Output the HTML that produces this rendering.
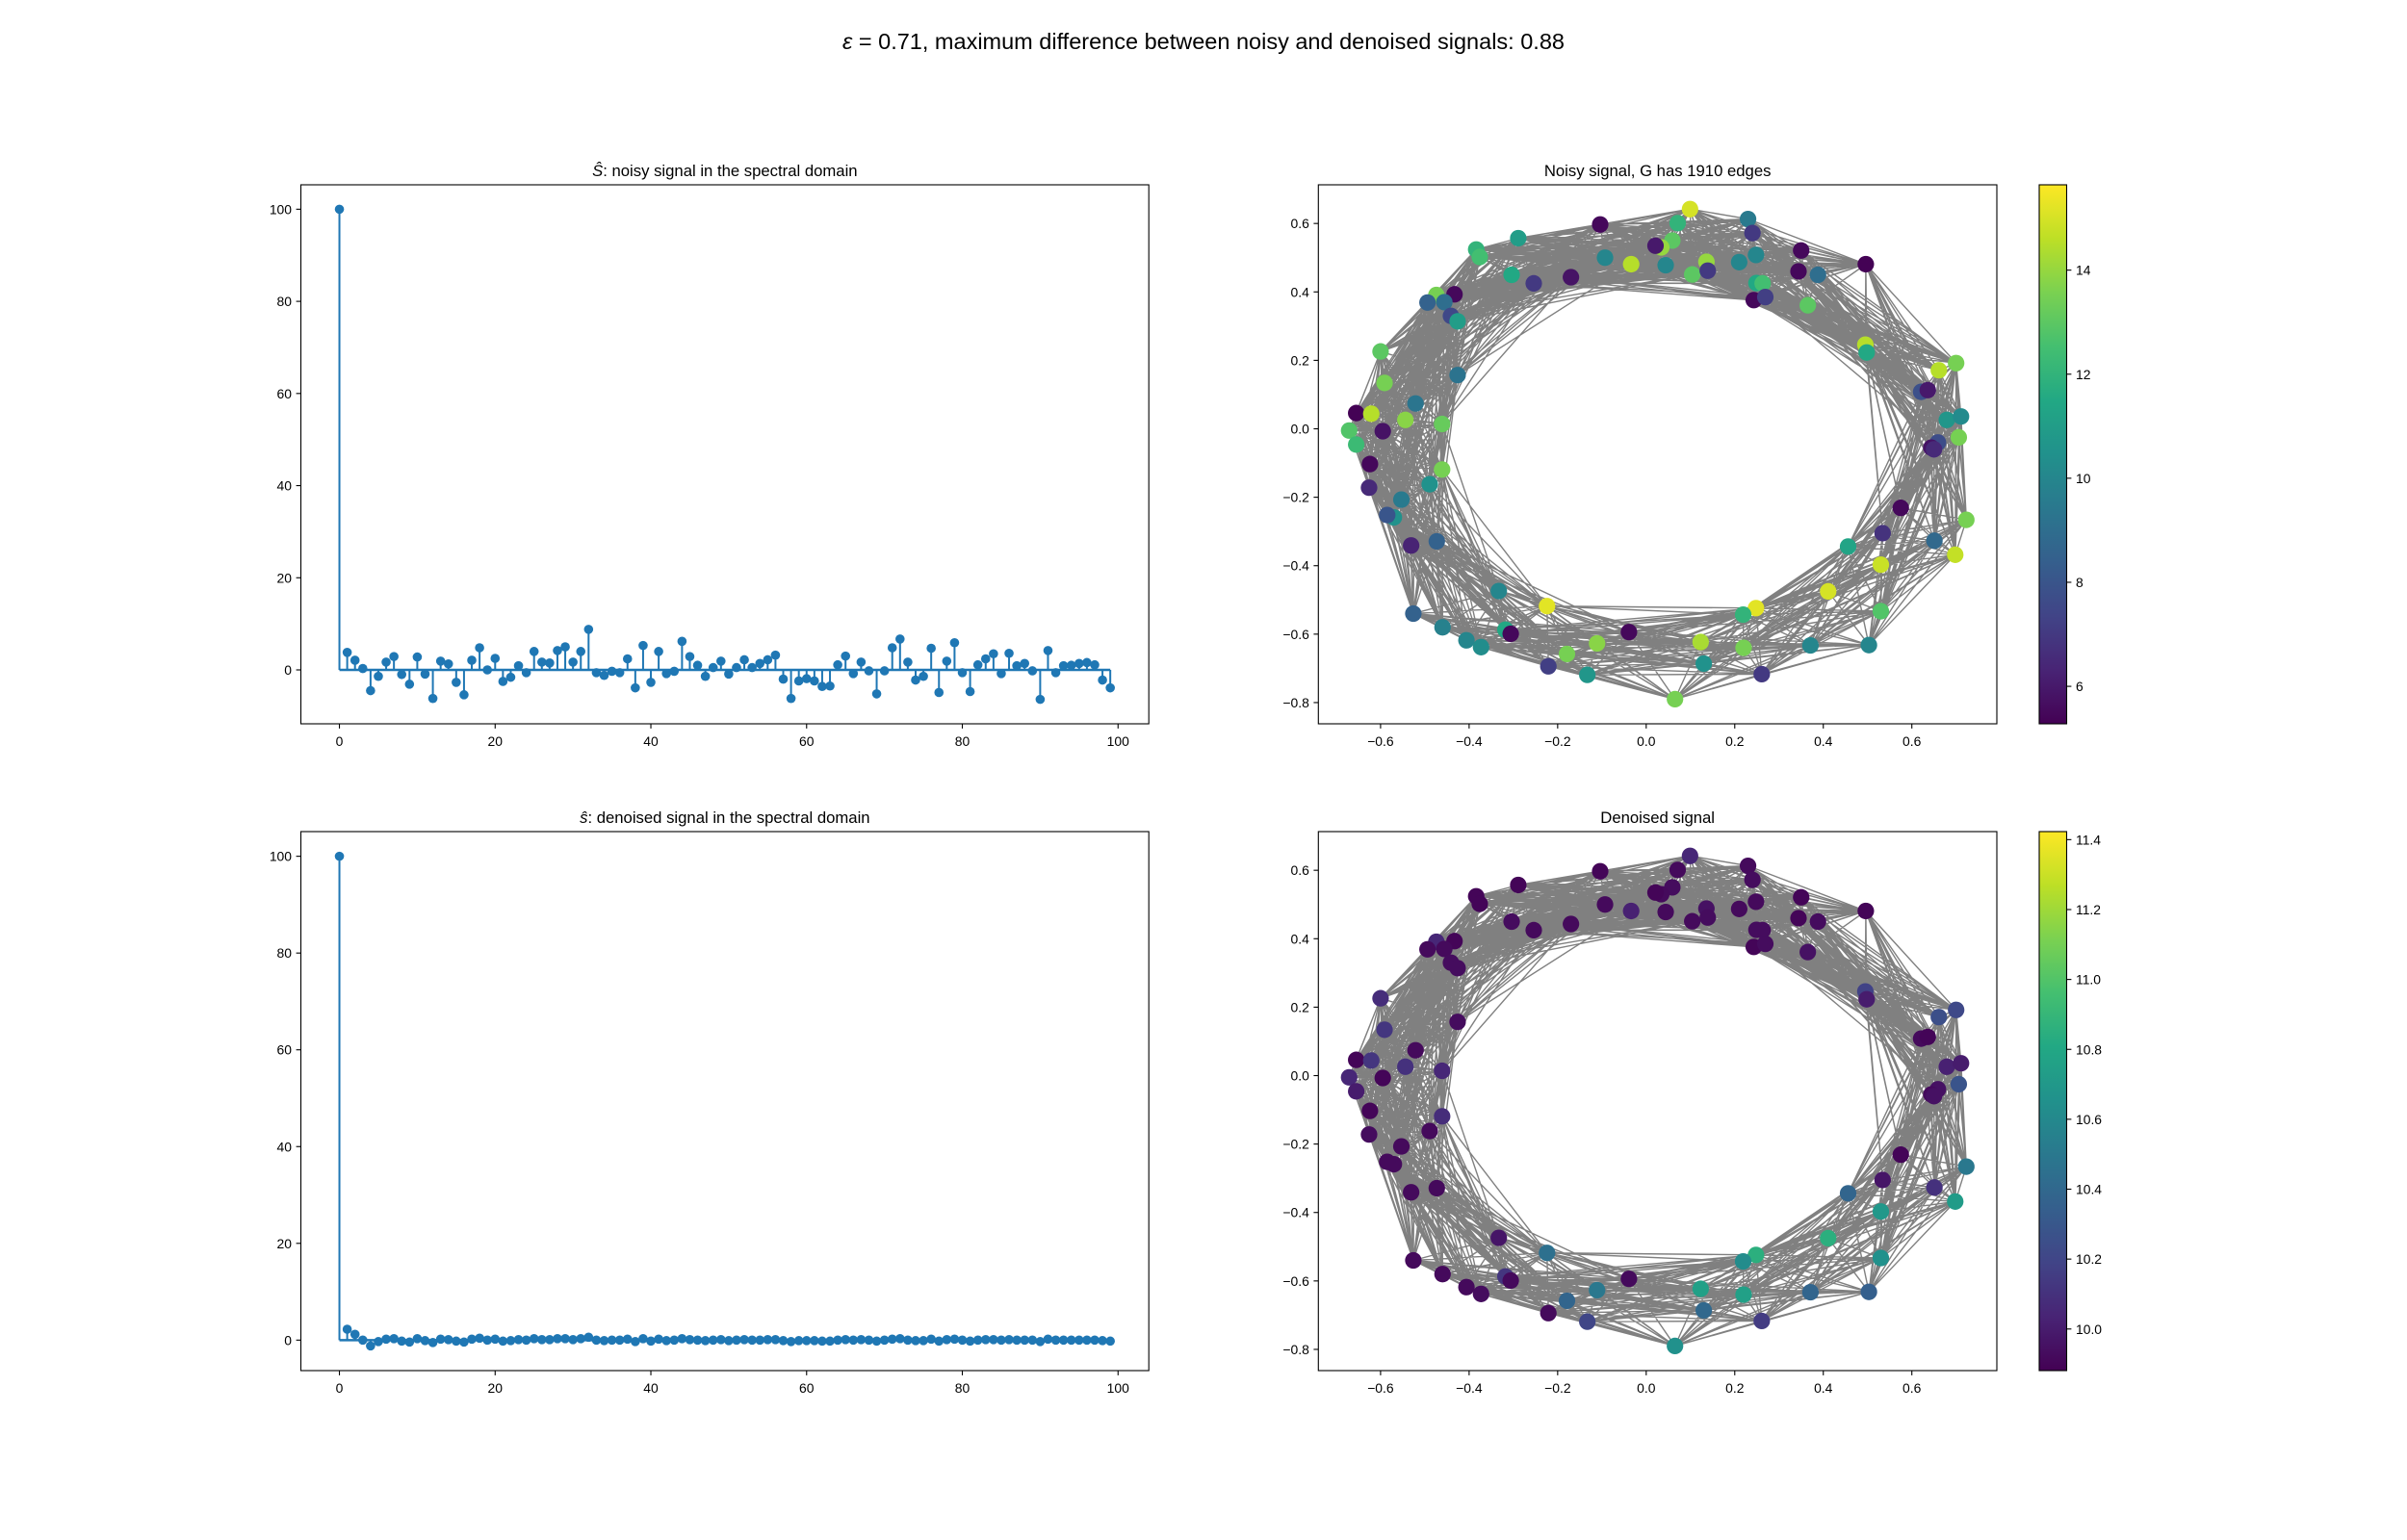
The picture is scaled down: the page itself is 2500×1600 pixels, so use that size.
<!DOCTYPE html>
<html><head><meta charset="utf-8">
<style>
html,body{margin:0;padding:0;background:#fff;}
svg{display:block;font-family:"Liberation Sans","DejaVu Sans",sans-serif;}
</style></head>
<body>
<svg id="fig" xmlns="http://www.w3.org/2000/svg" width="2500" height="1600" viewBox="0 0 2500 1600">
<rect width="2500" height="1600" fill="#fff"/>
<text x="1250" y="51" font-size="23.5" text-anchor="middle"><tspan font-style="italic">ε</tspan> = 0.71, maximum difference between noisy and denoised signals: 0.88</text>
<defs>
<linearGradient id="vir" x1="0" y1="1" x2="0" y2="0">
<stop offset="0" stop-color="#440154"/><stop offset="0.1" stop-color="#482475"/><stop offset="0.2" stop-color="#414487"/><stop offset="0.3" stop-color="#355f8d"/><stop offset="0.4" stop-color="#2a788e"/><stop offset="0.5" stop-color="#21918c"/><stop offset="0.6" stop-color="#22a884"/><stop offset="0.7" stop-color="#44bf70"/><stop offset="0.8" stop-color="#7ad151"/><stop offset="0.9" stop-color="#bddf26"/><stop offset="1" stop-color="#fde725"/>
</linearGradient>
</defs>
<g id="root"></g>
</svg>
<script>
// ---- data ----
const stemNoisy = [100,3.8,2.1,0.3,-4.5,-1.4,1.7,2.9,-1.0,-3.1,2.8,-0.9,-6.2,1.9,1.3,-2.7,-5.4,2.1,4.8,0,2.5,-2.5,-1.6,0.9,-0.6,4.0,1.7,1.5,4.2,5.0,1.7,4.0,8.8,-0.6,-1.2,-0.3,-0.6,2.4,-3.9,5.3,-2.7,4.0,-0.8,-0.3,6.2,2.9,1.0,-1.4,0.5,1.9,-0.9,0.5,2.2,0.5,1.4,2.2,3.2,-2.0,-6.2,-2.4,-1.9,-2.4,-3.6,-3.5,1.1,3.0,-0.8,1.7,-0.2,-5.2,-0.2,4.8,6.7,1.7,-2.2,-1.4,4.7,-4.9,1.9,5.9,-0.6,-4.7,1.1,2.4,3.5,-0.8,3.6,0.9,1.4,-0.2,-6.4,4.2,-0.6,0.9,1.0,1.4,1.6,1.1,-2.2,-3.9];
const stemDenoised = [100,2.25,1.2,0.0,-1.2,-0.3,0.2,0.3,-0.2,-0.4,0.3,-0.1,-0.5,0.2,0.1,-0.2,-0.4,0.2,0.4,0.0,0.2,-0.2,-0.1,0.1,0.0,0.3,0.1,0.1,0.3,0.3,0.1,0.3,0.6,0.0,-0.1,0.0,0.0,0.2,-0.3,0.3,-0.2,0.2,-0.1,0.0,0.3,0.1,0.0,-0.1,0.0,0.1,-0.1,0.0,0.1,0.0,0.0,0.1,0.1,-0.1,-0.3,-0.1,-0.1,-0.1,-0.2,-0.2,0.0,0.1,0.0,0.1,0.0,-0.2,0.0,0.2,0.3,0.0,-0.1,-0.1,0.2,-0.2,0.1,0.2,0.0,-0.2,0.0,0.1,0.1,0.0,0.1,0.0,0.0,0.0,-0.3,0.2,0.0,0.0,0.0,0.0,0.0,0.0,-0.1,-0.2];
const stemXTicks = [0,20,40,60,80,100];
const stemYTicks = [0,20,40,60,80,100];

const nodeX = [0.099,0.071,-0.104,0.23,0.24,-0.289,-0.384,-0.376,0.059,0.034,0.021,-0.093,-0.034,0.044,0.136,0.104,0.139,0.21,0.248,0.35,0.344,0.388,0.496,-0.304,-0.254,-0.17,0.249,0.263,0.243,0.269,0.365,-0.474,-0.433,-0.494,-0.456,-0.441,-0.426,-0.6,0.495,0.498,0.70,0.661,-0.591,-0.426,0.621,0.636,-0.521,-0.655,-0.621,-0.544,-0.461,0.679,0.711,-0.671,-0.595,-0.655,0.706,0.659,0.644,0.65,-0.624,-0.461,-0.626,-0.489,-0.553,-0.57,-0.585,0.575,0.723,0.534,-0.531,-0.473,0.651,0.456,0.53,0.698,-0.333,0.411,-0.224,0.248,0.219,0.53,-0.526,-0.46,-0.318,-0.306,-0.039,-0.406,-0.373,-0.111,0.123,0.22,0.371,0.503,-0.179,-0.221,-0.133,0.13,0.261,0.065];
const nodeY = [0.642,0.601,0.597,0.613,0.572,0.557,0.524,0.502,0.550,0.530,0.535,0.500,0.481,0.478,0.488,0.451,0.462,0.487,0.508,0.521,0.460,0.450,0.481,0.450,0.425,0.443,0.426,0.425,0.376,0.385,0.361,0.391,0.393,0.369,0.370,0.330,0.314,0.226,0.246,0.223,0.192,0.171,0.134,0.157,0.108,0.113,0.074,0.046,0.044,0.026,0.014,0.026,0.036,-0.005,-0.007,-0.046,-0.025,-0.040,-0.055,-0.06,-0.103,-0.119,-0.172,-0.162,-0.207,-0.259,-0.252,-0.231,-0.266,-0.305,-0.341,-0.329,-0.327,-0.344,-0.397,-0.368,-0.474,-0.475,-0.518,-0.524,-0.543,-0.533,-0.540,-0.580,-0.587,-0.599,-0.594,-0.618,-0.638,-0.627,-0.623,-0.640,-0.633,-0.632,-0.658,-0.694,-0.719,-0.686,-0.717,-0.790];
const noisyVal = [15,12,5.5,9.5,7,11,12,12.5,13,14,6,10,14.5,10,14,13,7,10,10,5.5,5.5,9,5.3,11.5,7,5.8,11.5,12.5,5.5,7.2,13,13.5,5.5,8.5,9,7.5,11,13,14.5,11.5,13.5,14.5,13.5,9.2,7.8,6,9.3,5.3,14.5,13.8,13.2,10.7,10.2,12.8,5.8,12.3,13.5,7.7,5.8,6.5,5.5,13.5,6.5,10.5,9.5,10.5,8,5.5,13.5,6.8,6.3,8.5,8.8,11.3,14.8,14.7,10,15,15.2,15.2,12,12.8,8.5,9.8,11.5,5.5,5.5,10,10.3,13.8,14.3,13.5,10,10,13.5,7.2,10.7,10.5,7,13.5];
const denoisedVal = [10.05,9.92,9.9,9.92,9.93,9.9,9.9,9.9,9.93,9.92,9.9,9.92,10.02,9.92,9.95,9.92,9.93,9.92,9.92,9.9,9.9,9.93,9.9,9.93,9.92,9.92,9.93,9.93,9.9,9.93,9.95,10.05,9.9,9.92,9.92,9.93,9.93,10.08,10.18,10.0,10.22,10.25,10.12,9.93,9.92,9.9,9.92,9.9,10.12,10.1,10.05,10.02,10.0,10.05,9.9,10.0,10.28,9.95,9.92,9.95,9.9,10.08,9.93,9.92,9.92,9.92,9.92,9.9,10.5,9.97,9.92,9.92,10.1,10.38,10.7,10.72,9.97,10.85,10.45,10.85,10.62,10.65,9.92,9.92,10.12,9.92,9.92,9.92,9.93,10.5,10.75,10.75,10.38,10.35,10.38,9.92,10.2,10.4,10.15,10.65];
const graphXTicks = [-0.6,-0.4,-0.2,0.0,0.2,0.4,0.6];
const graphYTicks = [-0.8,-0.6,-0.4,-0.2,0.0,0.2,0.4,0.6];
const cbNoisyTicks = [6,8,10,12,14];
const cbDenoisedTicks = [10.0,10.2,10.4,10.6,10.8,11.0,11.2,11.4];

// ---- helpers ----
const NS = "http://www.w3.org/2000/svg";
const root = document.getElementById('root');
function mk(tag, attrs, parent){
  const e = document.createElementNS(NS, tag);
  for (const k in attrs) e.setAttribute(k, attrs[k]);
  (parent||root).appendChild(e);
  return e;
}
function fmt(v, d){ const s = v.toFixed(d); return s.replace('-', '\u2212'); }
const VIR = ["#440154","#482475","#414487","#355f8d","#2a788e","#21918c","#22a884","#44bf70","#7ad151","#bddf26","#fde725"];
function hex2rgb(h){return [parseInt(h.slice(1,3),16),parseInt(h.slice(3,5),16),parseInt(h.slice(5,7),16)];}
function viridis(t){
  t = Math.max(0, Math.min(1, t));
  const p = t*10, i = Math.min(9, Math.floor(p)), f = p - i;
  const a = hex2rgb(VIR[i]), b = hex2rgb(VIR[i+1]);
  return 'rgb(' + a.map((v,k)=>Math.round(v+(b[k]-v)*f)).join(',') + ')';
}
const C0 = '#1f77b4';

// ---- stem plot ----
function stemPlot(name, top, vals, ylo, yhi, titleMain, hat){
  const L = 312.5, R = 1193.2, T = top, B = top + 560;
  const xlo = -4.95, xhi = 103.95;
  const sx = v => L + (v - xlo)/(xhi - xlo)*(R - L);
  const sy = v => B - (v - ylo)/(yhi - ylo)*(B - T);
  const g = mk('g', {});
  
  
  const t = mk('text', {x:(L+R)/2, y:T-9, 'font-size':16.7, 'text-anchor':'middle'}, g);
  
  
  const ts = mk('tspan', {'font-style':'italic'}, t); ts.textContent = hat;
  const ts2 = mk('tspan', {}, t); ts2.textContent = titleMain;
  vals.forEach((v,i)=>{
    const ln = mk('line', {x1:sx(i), x2:sx(i), y1:sy(0), y2:sy(v), stroke:C0, 'stroke-width':2}, g);
    
    
  });
  const base = mk('line', {x1:sx(0), x2:sx(vals.length-1), y1:sy(0), y2:sy(0), stroke:C0, 'stroke-width':2.5}, g);
  
  
  vals.forEach((v,i)=>{
    const c = mk('circle', {cx:sx(i), cy:sy(v), r:4.8, fill:C0}, g);
    
    
  });
  const fr = mk('rect', {x:L, y:T, width:R-L, height:B-T, fill:'none', stroke:'#000', 'stroke-width':1.1}, g);
  
  
  stemXTicks.forEach(v=>{
    mk('line', {x1:sx(v), x2:sx(v), y1:B, y2:B+4.9, stroke:'#000', 'stroke-width':1.1}, g);
    const tx = mk('text', {x:sx(v), y:B+23, 'font-size':13.9, 'text-anchor':'middle'}, g);
    
    
    tx.textContent = String(v);
  });
  stemYTicks.forEach(v=>{
    mk('line', {x1:L-4.9, x2:L, y1:sy(v), y2:sy(v), stroke:'#000', 'stroke-width':1.1}, g);
    const tx = mk('text', {x:L-9.5, y:sy(v)+5, 'font-size':13.9, 'text-anchor':'end'}, g);
    
    
    tx.textContent = String(v);
  });
}
stemPlot('noisy-spectrum-plot', 192, stemNoisy, -11.7, 105.3, ': noisy signal in the spectral domain', '\u015C');
stemPlot('denoised-spectrum-plot', 864, stemDenoised, -6.3, 105.1, ': denoised signal in the spectral domain', '\u015D');

// ---- graph plot ----
function graphPlot(name, top, vals, vmin, vmax, title, cbTicks, cbDec){
  const L = 1369.3, R = 2074, T = top, B = top + 560;
  const xlo = -0.7405, xhi = 0.792, ylo = -0.862, yhi = 0.713;
  const sx = v => L + (v - xlo)/(xhi - xlo)*(R - L);
  const sy = v => B - (v - ylo)/(yhi - ylo)*(B - T);
  const g = mk('g', {});
  
  
  const t = mk('text', {x:(L+R)/2, y:T-9, 'font-size':16.7, 'text-anchor':'middle'}, g);
  
  
  t.textContent = title;
  const cx = 0.03, cy = -0.07;
  const ang = nodeX.map((x,i)=>Math.atan2(nodeY[i]-cy, x-cx));
  let d = '';
  for (let i=0;i<nodeX.length;i++){
    for (let j=i+1;j<nodeX.length;j++){
      let da = Math.abs(ang[i]-ang[j]); if (da > Math.PI) da = 2*Math.PI - da;
      if (da < 1.05){
        d += 'M' + sx(nodeX[i]).toFixed(1) + ' ' + sy(nodeY[i]).toFixed(1) + 'L' + sx(nodeX[j]).toFixed(1) + ' ' + sy(nodeY[j]).toFixed(1);
      }
    }
  }
  const ep = mk('path', {d:d, stroke:'#808080', 'stroke-width':1.4, fill:'none'}, g);
  
  
  nodeX.forEach((x,i)=>{
    const c = mk('circle', {cx:sx(x), cy:sy(nodeY[i]), r:8.6, fill:viridis((vals[i]-vmin)/(vmax-vmin))}, g);
    
    
  });
  const fr = mk('rect', {x:L, y:T, width:R-L, height:B-T, fill:'none', stroke:'#000', 'stroke-width':1.1}, g);
  
  
  graphXTicks.forEach(v=>{
    mk('line', {x1:sx(v), x2:sx(v), y1:B, y2:B+4.9, stroke:'#000', 'stroke-width':1.1}, g);
    const tx = mk('text', {x:sx(v), y:B+23, 'font-size':13.9, 'text-anchor':'middle'}, g);
    
    
    tx.textContent = fmt(v,1);
  });
  graphYTicks.forEach(v=>{
    mk('line', {x1:L-4.9, x2:L, y1:sy(v), y2:sy(v), stroke:'#000', 'stroke-width':1.1}, g);
    const tx = mk('text', {x:L-9.5, y:sy(v)+5, 'font-size':13.9, 'text-anchor':'end'}, g);
    
    
    tx.textContent = fmt(v,1);
  });
  const CL = 2118, CR = 2146.5;
  const cy2 = v => B - (v - vmin)/(vmax - vmin)*(B - T);
  const cb = mk('rect', {x:CL, y:T, width:CR-CL, height:B-T, fill:'url(#vir)', stroke:'#000', 'stroke-width':1.1}, g);
  
  
  cbTicks.forEach(v=>{
    mk('line', {x1:CR, x2:CR+4.9, y1:cy2(v), y2:cy2(v), stroke:'#000', 'stroke-width':1.1}, g);
    const tx = mk('text', {x:CR+9.5, y:cy2(v)+5, 'font-size':13.9, 'text-anchor':'start'}, g);
    
    
    tx.textContent = fmt(v, cbDec);
  });
}
graphPlot('noisy-graph-plot', 192, noisyVal, 5.28, 15.64, 'Noisy signal, G has 1910 edges', cbNoisyTicks, 0);
graphPlot('denoised-graph-plot', 864, denoisedVal, 9.881, 11.423, 'Denoised signal', cbDenoisedTicks, 1);
</script>
</body></html>
